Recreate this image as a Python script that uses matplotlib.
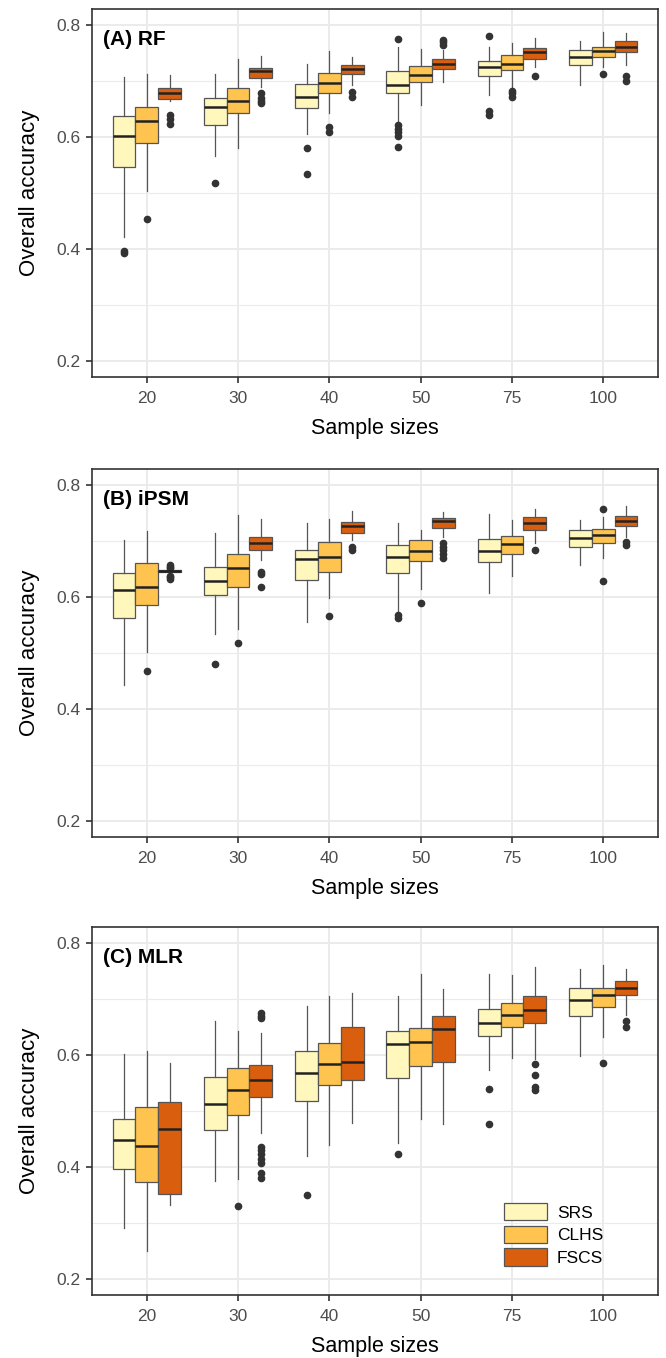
import numpy as np
import matplotlib
matplotlib.use('Agg')
import matplotlib.pyplot as plt
import matplotlib.patches as mpatches

plt.rcParams['font.family'] = ['Liberation Sans', 'DejaVu Sans']

sizes = ['20', '30', '40', '50', '75', '100']
methods = ['SRS', 'CLHS', 'FSCS']
colors = ['#FFF7BC', '#FEC44F', '#D95F0E']
titles = ['(A) RF', '(B) iPSM', '(C) MLR']

# each stat: one row per method (SRS, CLHS, FSCS), one value per sample size
# (A) RF
rf_q3 = [[0.638, 0.669, 0.694, 0.717, 0.736, 0.755],
         [0.653, 0.687, 0.715, 0.727, 0.746, 0.761],
         [0.687, 0.724, 0.728, 0.739, 0.759, 0.771]]
rf_med = [[0.601, 0.653, 0.671, 0.693, 0.725, 0.742],
          [0.629, 0.664, 0.697, 0.710, 0.731, 0.754],
          [0.678, 0.718, 0.721, 0.731, 0.751, 0.761]]
rf_q1 = [[0.546, 0.621, 0.651, 0.679, 0.709, 0.729],
         [0.589, 0.643, 0.678, 0.698, 0.719, 0.743],
         [0.668, 0.706, 0.713, 0.722, 0.739, 0.751]]
rf_hi = [[0.707, 0.712, 0.730, 0.760, 0.761, 0.772],
         [0.713, 0.739, 0.754, 0.758, 0.768, 0.787],
         [0.710, 0.745, 0.743, 0.755, 0.776, 0.785]]
rf_lo = [[0.422, 0.566, 0.606, 0.629, 0.675, 0.693],
         [0.503, 0.580, 0.642, 0.657, 0.688, 0.725],
         [0.664, 0.690, 0.692, 0.699, 0.725, 0.728]]
rf_out = [[[0.396, 0.393], [0.518], [0.581, 0.534],
           [0.775, 0.621, 0.615, 0.609, 0.601, 0.582], [0.781, 0.646, 0.640], []],
          [[0.454], [], [0.617, 0.609], [], [0.682, 0.678, 0.672], [0.712]],
          [[0.640, 0.632, 0.623], [0.679, 0.670, 0.664, 0.660], [0.681, 0.672],
           [0.774, 0.770, 0.764], [0.709], [0.709, 0.700]]]

# (B) iPSM
ipsm_q3 = [[0.643, 0.653, 0.684, 0.692, 0.703, 0.720],
           [0.660, 0.677, 0.698, 0.701, 0.709, 0.721],
           [0.648, 0.708, 0.734, 0.741, 0.742, 0.745]]
ipsm_med = [[0.612, 0.629, 0.668, 0.671, 0.683, 0.705],
            [0.618, 0.651, 0.671, 0.683, 0.694, 0.710],
            [0.646, 0.696, 0.726, 0.735, 0.733, 0.735]]
ipsm_q1 = [[0.562, 0.604, 0.630, 0.642, 0.663, 0.689],
           [0.585, 0.617, 0.645, 0.665, 0.676, 0.696],
           [0.644, 0.684, 0.715, 0.723, 0.720, 0.726]]
ipsm_hi = [[0.702, 0.715, 0.733, 0.733, 0.748, 0.738],
           [0.717, 0.746, 0.739, 0.720, 0.738, 0.743],
           [0.650, 0.739, 0.754, 0.751, 0.758, 0.763]]
ipsm_lo = [[0.443, 0.534, 0.555, 0.571, 0.607, 0.658],
           [0.502, 0.543, 0.598, 0.615, 0.638, 0.669],
           [0.642, 0.666, 0.702, 0.708, 0.696, 0.708]]
ipsm_out = [[[], [0.480], [], [0.567, 0.562], [], []],
            [[0.467], [0.517], [0.566], [0.589], [], [0.757, 0.629]],
            [[0.657, 0.654, 0.652, 0.638, 0.635, 0.633], [0.645, 0.641, 0.617],
             [0.689, 0.684], [0.697, 0.690, 0.684, 0.677, 0.670], [0.684], [0.698, 0.693]]]

# (C) MLR
mlr_q3 = [[0.485, 0.561, 0.607, 0.642, 0.682, 0.720],
          [0.508, 0.577, 0.621, 0.648, 0.693, 0.720],
          [0.516, 0.582, 0.650, 0.670, 0.706, 0.733]]
mlr_med = [[0.449, 0.512, 0.568, 0.619, 0.657, 0.699],
           [0.438, 0.537, 0.584, 0.624, 0.672, 0.707],
           [0.468, 0.555, 0.588, 0.646, 0.681, 0.720]]
mlr_q1 = [[0.396, 0.466, 0.518, 0.559, 0.634, 0.670],
          [0.373, 0.493, 0.547, 0.580, 0.650, 0.685],
          [0.352, 0.525, 0.555, 0.588, 0.657, 0.707]]
mlr_hi = [[0.602, 0.660, 0.688, 0.705, 0.744, 0.754],
          [0.608, 0.643, 0.705, 0.744, 0.742, 0.761],
          [0.585, 0.640, 0.710, 0.717, 0.757, 0.754]]
mlr_lo = [[0.291, 0.375, 0.420, 0.442, 0.574, 0.598],
          [0.250, 0.378, 0.439, 0.485, 0.595, 0.632],
          [0.332, 0.461, 0.479, 0.476, 0.592, 0.672]]
mlr_out = [[[], [], [0.350], [0.424], [0.540, 0.476], []],
           [[], [0.331], [], [], [], [0.586]],
           [[], [0.675, 0.670, 0.666, 0.436, 0.430, 0.423, 0.415, 0.408, 0.390, 0.381],
            [], [], [0.584, 0.565, 0.543, 0.537], [0.660, 0.650]]]

panels = [
    (rf_q1, rf_med, rf_q3, rf_lo, rf_hi, rf_out),
    (ipsm_q1, ipsm_med, ipsm_q3, ipsm_lo, ipsm_hi, ipsm_out),
    (mlr_q1, mlr_med, mlr_q3, mlr_lo, mlr_hi, mlr_out),
]

W, H = 666, 1358
fig = plt.figure(figsize=(W / 100, H / 100), dpi=100)
ax_left, ax_w = 92 / W, 566 / W
tops = [9, 469, 927]
ax_h = 368

x = np.arange(len(sizes))
offsets = [-0.25, 0.0, 0.25]

for i, (q1, med, q3, lo, hi, out) in enumerate(panels):
    ax = fig.add_axes([ax_left, 1 - (tops[i] + ax_h) / H, ax_w, ax_h / H])
    ax.set_facecolor('white')
    for m in range(3):
        stats = []
        for k in range(len(sizes)):
            stats.append(dict(med=med[m][k], q1=q1[m][k], q3=q3[m][k],
                              whislo=lo[m][k], whishi=hi[m][k], fliers=out[m][k]))
        ax.bxp(stats, positions=x + offsets[m], widths=0.25, patch_artist=True,
               showcaps=False, manage_ticks=False,
               boxprops=dict(facecolor=colors[m], edgecolor='#555555', linewidth=0.9),
               medianprops=dict(color='#222222', linewidth=1.8),
               whiskerprops=dict(color='#555555', linewidth=0.9),
               flierprops=dict(marker='o', markersize=4.5, markerfacecolor='#333333',
                               markeredgecolor='#333333'),
               zorder=3)
    ax.set_xlim(-0.6, len(sizes) - 0.4)
    ax.set_ylim(0.2 - 16 / 560, 0.8 + 16 / 560)
    ax.set_xticks(x)
    ax.set_xticklabels(sizes)
    ax.set_yticks([0.2, 0.4, 0.6, 0.8])
    ax.set_yticklabels(['0.2', '0.4', '0.6', '0.8'])
    ax.set_yticks([0.3, 0.5, 0.7], minor=True)
    ax.grid(True, which='major', color='#EBEBEB', linewidth=1.4, zorder=0)
    ax.grid(True, which='minor', axis='y', color='#EBEBEB', linewidth=0.8, zorder=0)
    ax.set_axisbelow(True)
    ax.tick_params(axis='both', which='major', direction='out', length=4, width=1.2,
                   color='#333333', labelcolor='#4D4D4D', labelsize=12.5, pad=4)
    ax.tick_params(axis='x', which='major', pad=6)
    ax.tick_params(axis='y', which='minor', length=0)
    for s in ax.spines.values():
        s.set_color('#333333')
        s.set_linewidth(1.2)
    ax.set_xlabel('Sample sizes', fontsize=15.5, labelpad=9)
    ax.set_ylabel('Overall accuracy', fontsize=16, labelpad=12)
    ax.text(0.019, 0.918, titles[i], transform=ax.transAxes, fontsize=15,
            fontweight='bold', va='center', ha='left', zorder=5)

    if i == 2:
        handles = [mpatches.Patch(facecolor=c, edgecolor='#555555', linewidth=0.9, label=lab)
                   for c, lab in zip(colors, methods)]
        ax.legend(handles=handles, loc='lower right', bbox_to_anchor=(0.915, 0.06),
                  frameon=False, fontsize=12.5, handlelength=2.5, handleheight=1.15,
                  labelspacing=0.3, handletextpad=0.55, borderaxespad=0)

fig.savefig('out.png', dpi=100)
